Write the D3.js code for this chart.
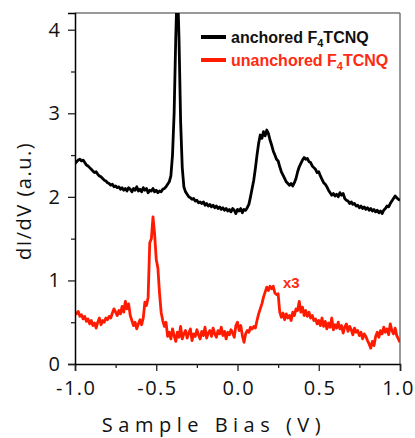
<!DOCTYPE html>
<html><head><meta charset="utf-8">
<script src="https://cdn.jsdelivr.net/npm/d3@7"></script>
<style>body{margin:0;background:#fff;}svg{display:block;}</style>
</head><body>
<svg id="c" width="415" height="438"></svg>
<script>
// Sample bias grid: -1.00 V to 1.00 V, 0.01 V step
const biasStart = -1.0, biasStep = 0.01;
const anchored = [
 2.40,2.42,2.44,2.45,2.43,2.44,2.41,2.38,2.37,2.35,
 2.33,2.31,2.29,2.30,2.27,2.25,2.24,2.22,2.20,2.19,
 2.17,2.16,2.14,2.15,2.12,2.13,2.11,2.12,2.09,2.11,
 2.08,2.10,2.07,2.11,2.09,2.06,2.10,2.08,2.12,2.07,
 2.09,2.06,2.11,2.08,2.10,2.05,2.08,2.07,2.10,2.06,
 2.08,2.05,2.07,2.06,2.09,2.10,2.12,2.15,2.18,2.25,
 2.50,3.00,3.90,4.60,3.90,2.90,2.35,2.12,2.06,2.03,
 2.00,1.99,1.97,1.98,1.95,1.96,1.93,1.94,1.92,1.94,
 1.90,1.92,1.89,1.91,1.88,1.90,1.87,1.89,1.86,1.88,
 1.85,1.87,1.84,1.86,1.83,1.85,1.82,1.86,1.84,1.80,
 1.85,1.83,1.86,1.81,1.85,1.84,1.87,1.91,2.00,2.10,
 2.20,2.34,2.50,2.64,2.74,2.70,2.78,2.73,2.80,2.76,
 2.68,2.62,2.55,2.50,2.45,2.43,2.36,2.30,2.26,2.22,
 2.18,2.16,2.14,2.16,2.13,2.17,2.22,2.30,2.36,2.40,
 2.44,2.47,2.45,2.46,2.42,2.41,2.37,2.35,2.33,2.29,
 2.30,2.25,2.21,2.17,2.15,2.12,2.08,2.05,2.02,2.04,
 2.01,2.03,2.00,2.05,2.02,2.04,1.98,1.96,1.95,1.92,
 1.94,1.91,1.92,1.89,1.90,1.87,1.89,1.86,1.88,1.85,
 1.87,1.84,1.86,1.83,1.85,1.82,1.84,1.81,1.83,1.80,
 1.84,1.86,1.89,1.88,1.92,1.95,1.98,2.01,1.99,1.97,
 1.96
];
const unanchored = [
 0.62,0.60,0.63,0.57,0.59,0.54,0.57,0.51,0.54,0.48,
 0.52,0.46,0.49,0.43,0.50,0.55,0.47,0.52,0.50,0.55,
 0.53,0.57,0.55,0.61,0.66,0.62,0.58,0.64,0.60,0.69,
 0.62,0.75,0.66,0.72,0.58,0.52,0.46,0.50,0.42,0.48,
 0.53,0.47,0.55,0.74,0.70,0.80,1.45,1.50,1.76,1.55,
 1.25,1.15,0.85,0.62,0.52,0.45,0.50,0.33,0.38,0.30,
 0.42,0.34,0.27,0.38,0.32,0.45,0.30,0.36,0.40,0.31,
 0.37,0.42,0.28,0.36,0.33,0.41,0.35,0.30,0.39,0.34,
 0.44,0.31,0.37,0.40,0.33,0.43,0.36,0.32,0.40,0.36,
 0.44,0.34,0.39,0.30,0.38,0.35,0.41,0.37,0.32,0.46,
 0.50,0.40,0.46,0.34,0.26,0.36,0.40,0.38,0.44,0.42,
 0.45,0.43,0.52,0.60,0.66,0.72,0.80,0.86,0.92,0.88,
 0.93,0.90,0.93,0.85,0.83,0.84,0.62,0.56,0.61,0.53,
 0.60,0.55,0.58,0.52,0.62,0.58,0.66,0.64,0.75,0.62,
 0.68,0.58,0.64,0.57,0.62,0.55,0.58,0.52,0.54,0.48,
 0.52,0.46,0.55,0.45,0.51,0.42,0.49,0.44,0.55,0.41,
 0.47,0.43,0.50,0.42,0.46,0.37,0.44,0.48,0.39,0.45,
 0.41,0.35,0.43,0.38,0.40,0.34,0.38,0.30,0.36,0.33,
 0.28,0.24,0.19,0.27,0.22,0.33,0.38,0.32,0.40,0.36,
 0.44,0.38,0.42,0.35,0.48,0.40,0.36,0.43,0.34,0.30,
 0.26
];
const xTicks = [-1.0, -0.5, 0.0, 0.5, 1.0];
const xMinorTicks = [-0.75, -0.25, 0.25, 0.75];
const yTicks = [0, 1, 2, 3, 4];
const yMinorTicks = [0.5, 1.5, 2.5, 3.5];
const seriesNames = ["anchored F", "unanchored F"];
const seriesColors = ["#000000", "#ff1a00"];

const W = 415, H = 438;
const m = {left: 75, right: 15, top: 13, bottom: 74};
const svg = d3.select("#c");
const x = d3.scaleLinear().domain([-1, 1]).range([m.left, W - m.right]);
const y = d3.scaleLinear().domain([0, 4.2]).range([H - m.bottom, m.top]);

svg.append("defs").append("clipPath").attr("id", "clip")
  .append("rect").attr("x", m.left).attr("y", m.top)
  .attr("width", W - m.left - m.right).attr("height", H - m.top - m.bottom);

const fontTick = "'Open Sans', 'DejaVu Sans', sans-serif";

// frame top/right
svg.append("line").attr("x1", m.left).attr("x2", W - m.right).attr("y1", m.top).attr("y2", m.top)
  .attr("stroke", "#777").attr("stroke-width", 1.5);
svg.append("line").attr("x1", W - m.right).attr("x2", W - m.right).attr("y1", m.top).attr("y2", H - m.bottom)
  .attr("stroke", "#777").attr("stroke-width", 1.5);

// data lines
const bias = (i) => biasStart + i * biasStep;
const line = d3.line().x((d, i) => x(bias(i))).y(d => y(d));
const g = svg.append("g").attr("clip-path", "url(#clip)");
[anchored, unanchored].forEach((s, k) => {
  g.append("path").datum(s).attr("d", line).attr("fill", "none")
    .attr("stroke", seriesColors[k]).attr("stroke-width", 2.8)
    .attr("stroke-linejoin", "round");
});

// axes
const xAxis = svg.append("g").attr("transform", `translate(0,${H - m.bottom})`)
  .call(d3.axisBottom(x).tickValues(xTicks).tickFormat(d3.format(".1f")).tickSize(7).tickPadding(10));
svg.append("g").attr("transform", `translate(0,${H - m.bottom})`)
  .call(d3.axisBottom(x).tickValues(xMinorTicks).tickFormat("").tickSize(4))
  .select(".domain").remove();
const yAxis = svg.append("g").attr("transform", `translate(${m.left},0)`)
  .call(d3.axisLeft(y).tickValues(yTicks).tickFormat(d3.format("d")).tickSize(7).tickPadding(8));
svg.append("g").attr("transform", `translate(${m.left},0)`)
  .call(d3.axisLeft(y).tickValues(yMinorTicks).tickFormat("").tickSize(4))
  .select(".domain").remove();
svg.selectAll(".domain").attr("stroke", "#000").attr("stroke-width", 1.5);
svg.selectAll(".tick line").attr("stroke", "#222").attr("stroke-width", 1.3);
xAxis.selectAll("text").attr("font-family", fontTick).attr("font-size", 20)
  .attr("letter-spacing", "1.5px").attr("dx", d => d === 1 ? -2 : 0.75).attr("fill", "#111")
  .text(d => (d < 0 ? "-" : "") + Math.abs(d).toFixed(1));
yAxis.selectAll("text").attr("font-family", fontTick).attr("font-size", 20).attr("fill", "#111");

// axis titles
svg.append("text").attr("x", 214).attr("y", 432).attr("text-anchor", "middle")
  .attr("font-family", fontTick).attr("font-size", 20).attr("letter-spacing", "5.5px")
  .attr("fill", "#111").text("Sample Bias (V)");
svg.append("text").attr("transform", "translate(31,201) rotate(-90)").attr("text-anchor", "middle")
  .attr("font-family", fontTick).attr("font-size", 20).attr("letter-spacing", "1.5px")
  .attr("fill", "#111").text("dI/dV (a.u.)");

// legend
const legFont = "'Liberation Sans', Arial, sans-serif";
seriesNames.forEach((name, k) => {
  const yy = 37 + k * 23;
  svg.append("line").attr("x1", 201).attr("x2", 226).attr("y1", yy).attr("y2", yy)
    .attr("stroke", seriesColors[k]).attr("stroke-width", 4);
  const t = svg.append("text").attr("x", 231).attr("y", yy + 6)
    .attr("font-family", legFont).attr("font-weight", "bold").attr("font-size", 16)
    .attr("fill", k === 0 ? "#111" : "#ff2a12");
  t.append("tspan").text(name);
  t.append("tspan").attr("dy", 4).attr("font-size", 11).text("4");
  t.append("tspan").attr("dy", -4).text("TCNQ");
});

// scale annotation
svg.append("text").attr("x", 283).attr("y", 288)
  .attr("font-family", legFont).attr("font-weight", "bold").attr("font-size", 15)
  .attr("fill", "#ff2a12").text("x3");
</script>
</body></html>
